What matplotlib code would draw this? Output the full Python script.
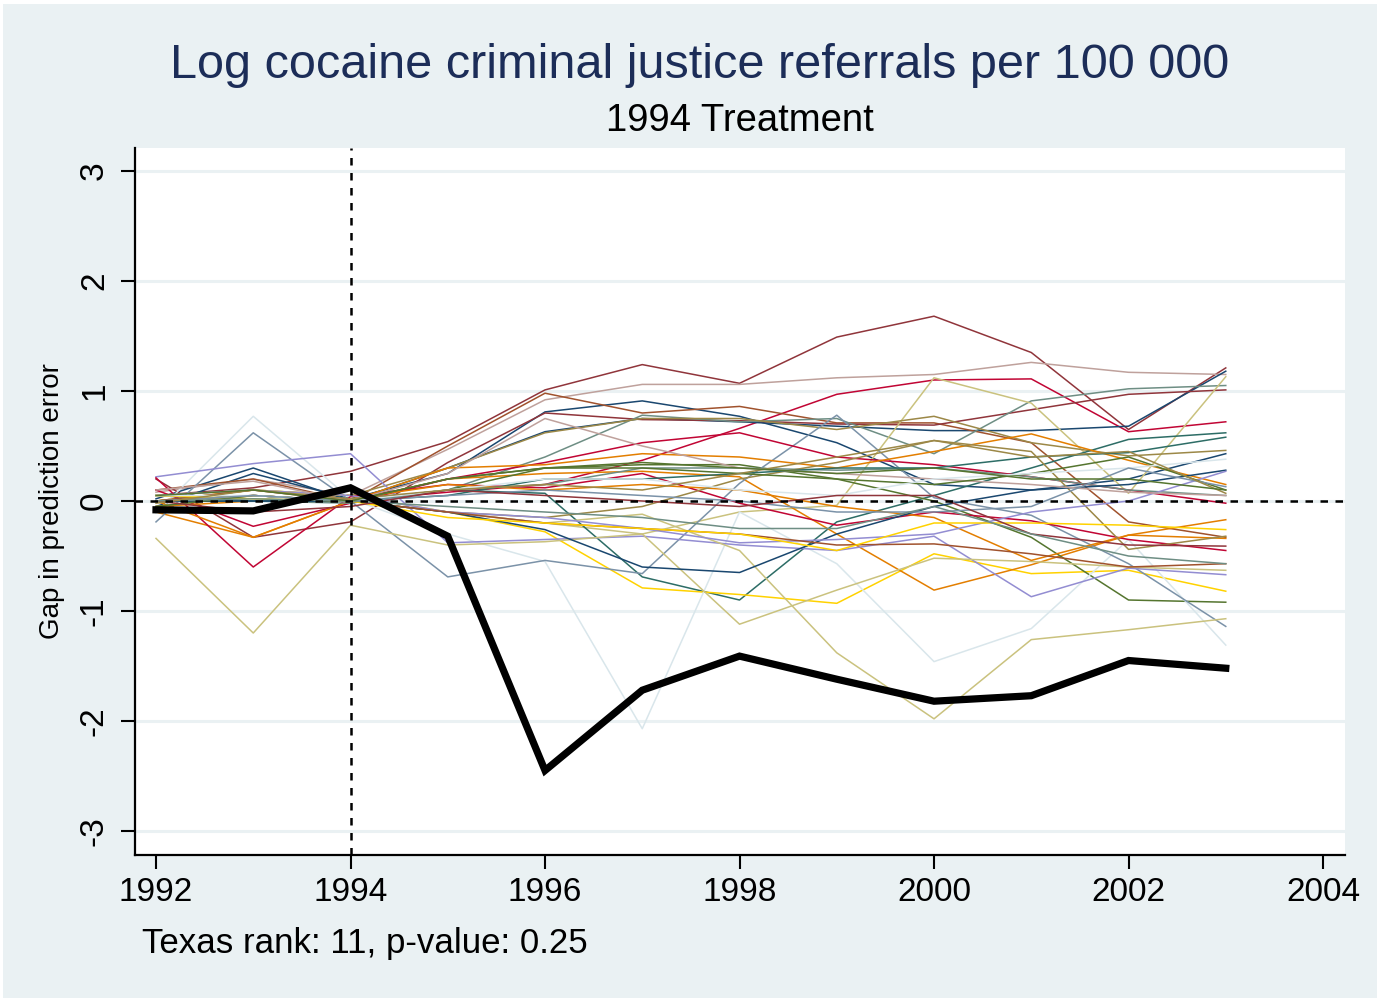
import matplotlib
matplotlib.use("Agg")
import matplotlib.pyplot as plt
from matplotlib.patches import Rectangle

plt.rcParams['font.family'] = ['Liberation Sans', 'DejaVu Sans']
plt.rcParams['axes.unicode_minus'] = False

years = list(range(1992, 2004))

# Texas gap in prediction error
texas = [-0.08, -0.09, 0.12, -0.32, -2.45, -1.72, -1.41, -1.62, -1.82, -1.77, -1.45, -1.52]

# Placebo gaps for the donor states
maroon_a = [0.05, 0.12, 0.27, 0.54, 1.01, 1.24, 1.07, 1.49, 1.68, 1.35, 0.65, 1.21]
erose_a = [0.08, 0.20, 0.05, 0.47, 0.92, 1.06, 1.06, 1.12, 1.15, 1.26, 1.17, 1.15]
cranberry_a = [0.00, 0.05, 0.00, 0.08, 0.15, 0.37, 0.66, 0.97, 1.10, 1.11, 0.63, 0.72]
navy_a = [0.02, 0.30, 0.00, 0.30, 0.63, 0.75, 0.72, 0.68, 0.64, 0.64, 0.68, 1.18]
navy_b = [-0.05, 0.25, 0.02, 0.25, 0.81, 0.91, 0.77, 0.53, 0.15, 0.10, 0.20, 0.43]
sienna_a = [0.10, 0.20, 0.00, 0.50, 0.98, 0.80, 0.86, 0.71, 0.71, 0.53, -0.19, -0.33]
maroon_b = [0.20, -0.33, -0.19, 0.35, 0.80, 0.74, 0.73, 0.70, 0.69, 0.83, 0.97, 1.01]
teal_a = [0.00, 0.05, 0.00, 0.10, 0.40, 0.78, 0.72, 0.75, 0.43, 0.91, 1.02, 1.05]
khaki_a = [0.05, 0.10, 0.00, -0.10, -0.20, -0.30, -0.10, -0.04, 1.12, 0.89, 0.07, 1.13]
brown_a = [0.00, 0.10, 0.05, 0.30, 0.62, 0.75, 0.75, 0.65, 0.77, 0.53, 0.41, 0.46]
emerald_a = [0.00, 0.00, 0.00, 0.10, 0.07, -0.69, -0.90, -0.19, 0.05, 0.30, 0.56, 0.62]
gold_a = [0.00, 0.10, 0.05, -0.10, -0.28, -0.79, -0.85, -0.93, -0.48, -0.66, -0.63, -0.82]
dkorange_a = [-0.10, -0.33, 0.00, 0.20, 0.25, 0.27, 0.22, -0.30, -0.81, -0.58, -0.31, -0.17]
forest_a = [0.00, 0.05, 0.00, 0.10, 0.30, 0.33, 0.33, 0.20, 0.00, -0.33, -0.90, -0.92]
bluishgray_a = [-0.11, 0.77, 0.02, -0.30, -0.55, -2.07, -0.10, -0.57, -1.46, -1.16, -0.35, -1.31]
emidblue_a = [-0.19, 0.62, 0.00, -0.69, -0.54, -0.66, 0.16, 0.78, 0.03, -0.13, -0.57, -1.14]
lavender_a = [0.22, 0.34, 0.43, -0.38, -0.35, -0.32, -0.40, -0.45, -0.32, -0.87, -0.61, -0.67]
khaki_b = [-0.34, -1.20, -0.22, -0.40, -0.37, -0.30, -1.12, -0.81, -0.52, -0.55, -0.60, -0.63]
khaki_c = [0.00, 0.05, 0.00, -0.10, -0.20, -0.12, -0.45, -1.38, -1.98, -1.26, -1.17, -1.07]
cranberry_b = [0.21, -0.60, 0.04, 0.15, 0.12, 0.25, -0.02, -0.22, -0.10, -0.18, -0.35, -0.45]
cranberry_c = [0.10, -0.23, -0.02, 0.20, 0.35, 0.53, 0.62, 0.40, 0.33, 0.22, 0.10, -0.02]
dkorange_b = [0.00, -0.33, 0.00, 0.30, 0.33, 0.43, 0.40, 0.30, 0.45, 0.61, 0.37, 0.15]
dkorange_c = [-0.05, 0.00, 0.02, 0.15, 0.10, 0.15, 0.10, -0.05, -0.15, -0.54, -0.31, -0.34]
teal_b = [0.05, 0.00, -0.02, 0.10, 0.15, 0.30, 0.30, 0.28, 0.30, 0.22, 0.10, 0.05]
brown_b = [-0.05, 0.05, 0.00, -0.10, -0.15, -0.05, 0.20, 0.35, 0.55, 0.45, -0.44, -0.32]
emerald_b = [0.00, 0.00, 0.00, 0.05, 0.20, 0.20, 0.25, 0.30, 0.30, 0.40, 0.44, 0.58]
navy_c = [0.00, 0.00, 0.00, -0.10, -0.26, -0.60, -0.65, -0.30, -0.05, 0.10, 0.15, 0.28]
lavender_b = [0.05, 0.10, 0.05, -0.10, -0.15, -0.25, -0.38, -0.35, -0.30, -0.10, 0.00, 0.27]
erose_b = [0.10, 0.18, 0.00, 0.25, 0.75, 0.50, 0.30, 0.25, 0.20, 0.15, 0.08, 0.05]
sienna_b = [0.00, 0.10, 0.00, -0.10, -0.20, -0.25, -0.30, -0.40, -0.39, -0.48, -0.60, -0.57]
gold_b = [0.05, 0.02, 0.00, -0.15, -0.20, -0.25, -0.30, -0.45, -0.20, -0.20, -0.22, -0.26]
forest_b = [-0.05, 0.05, 0.00, 0.20, 0.30, 0.30, 0.25, 0.20, 0.15, 0.25, 0.40, 0.10]
bluishgray_b = [0.05, 0.05, 0.00, 0.10, 0.20, 0.20, 0.10, 0.05, 0.20, 0.25, 0.30, 0.38]
emidblue_b = [0.00, 0.05, 0.00, 0.05, 0.10, 0.05, 0.00, -0.10, -0.10, -0.05, 0.30, 0.13]
maroon_c = [0.00, -0.10, -0.05, 0.10, 0.05, 0.00, -0.05, 0.05, 0.05, -0.30, -0.40, -0.41]
teal_c = [0.00, 0.02, 0.00, -0.05, -0.10, -0.15, -0.25, -0.25, -0.05, -0.30, -0.50, -0.57]
brown_c = [-0.02, 0.10, 0.02, 0.10, 0.15, 0.10, 0.25, 0.40, 0.55, 0.40, 0.45, 0.07]
forest_c = [0.05, 0.10, 0.00, 0.20, 0.30, 0.35, 0.30, 0.25, 0.30, 0.20, 0.20, 0.10]

# Stata s2color palette
pal = {
    'navy': '#1a476f', 'maroon': '#90353b', 'forest': '#55752f',
    'dkorange': '#e37e00', 'teal': '#6e8e84', 'cranberry': '#c10534',
    'lavender': '#938dd2', 'khaki': '#cac27e', 'sienna': '#a0522d',
    'emidblue': '#7b92a8', 'emerald': '#2d6d66', 'brown': '#9c8847',
    'erose': '#bfa19c', 'gold': '#ffd200', 'bluishgray': '#d9e6eb',
}

placebos = [
    (maroon_a, 'maroon'), (erose_a, 'erose'), (cranberry_a, 'cranberry'),
    (navy_a, 'navy'), (navy_b, 'navy'), (sienna_a, 'sienna'),
    (maroon_b, 'maroon'), (teal_a, 'teal'), (khaki_a, 'khaki'),
    (brown_a, 'brown'), (emerald_a, 'emerald'), (gold_a, 'gold'),
    (dkorange_a, 'dkorange'), (forest_a, 'forest'), (bluishgray_a, 'bluishgray'),
    (emidblue_a, 'emidblue'), (lavender_a, 'lavender'), (khaki_b, 'khaki'),
    (khaki_c, 'khaki'), (cranberry_b, 'cranberry'), (cranberry_c, 'cranberry'),
    (dkorange_b, 'dkorange'), (dkorange_c, 'dkorange'), (teal_b, 'teal'),
    (brown_b, 'brown'), (emerald_b, 'emerald'), (navy_c, 'navy'),
    (lavender_b, 'lavender'), (erose_b, 'erose'), (sienna_b, 'sienna'),
    (gold_b, 'gold'), (forest_b, 'forest'), (bluishgray_b, 'bluishgray'),
    (emidblue_b, 'emidblue'), (maroon_c, 'maroon'), (teal_c, 'teal'),
    (brown_c, 'brown'), (forest_c, 'forest'),
]

yticks = [-3, -2, -1, 0, 1, 2, 3]
xticks = [1992, 1994, 1996, 1998, 2000, 2002, 2004]

W, H = 1380, 1002
bg = '#eaf1f3'
fig = plt.figure(figsize=(W / 100, H / 100), dpi=100, facecolor='white')
fig.patches.append(Rectangle((3 / W, 4 / H), (W - 6) / W, (H - 8) / H,
                             transform=fig.transFigure, facecolor=bg,
                             edgecolor='none', zorder=-10))

ax = fig.add_axes([135 / W, 1 - 855 / H, (1345 - 135) / W, (855 - 148) / H])
ax.set_zorder(5)
ax.set_facecolor('white')
ax.set_xlim(1991.784, 2004.226)
ax.set_ylim(-3.218, 3.209)

for yv in yticks:
    ax.axhline(yv, color=bg, lw=2.2, zorder=1)

for vals, cname in placebos:
    ax.plot(years, vals, color=pal[cname], lw=1.1, zorder=2)

ax.axhline(0, color='black', lw=1.8, ls=(0, (3, 3)), zorder=3)
ax.axvline(1994, color='black', lw=1.8, ls=(0, (3, 3)), zorder=3)

ax.plot(years, texas, color='black', lw=5.2, solid_joinstyle='miter', zorder=4)

for side in ('top', 'right'):
    ax.spines[side].set_visible(False)
for side in ('left', 'bottom'):
    ax.spines[side].set_linewidth(1.6)

ax.set_xticks(xticks)
ax.set_yticks(yticks)
ax.tick_params(axis='both', length=10, width=1.5, labelsize=24, direction='out')
ax.tick_params(axis='x', pad=6)
ax.tick_params(axis='y', pad=8)
for lab in ax.get_yticklabels():
    lab.set_rotation(90)
    lab.set_va('center')

ax.set_ylabel('Gap in prediction error', fontsize=20, labelpad=10)

fig.text(0.507, 1 - 65 / H, 'Log cocaine criminal justice referrals per 100 000',
         ha='center', va='center', fontsize=35, color='#1c2d58')
fig.text(740 / W, 1 - 121 / H, '1994 Treatment', ha='center', va='center',
         fontsize=27.5, color='black')
fig.text(142 / W, 1 - 943 / H, 'Texas rank: 11, p-value: 0.25', ha='left',
         va='center', fontsize=25.1, color='black')

fig.savefig('out.png', dpi=100, facecolor='white')
